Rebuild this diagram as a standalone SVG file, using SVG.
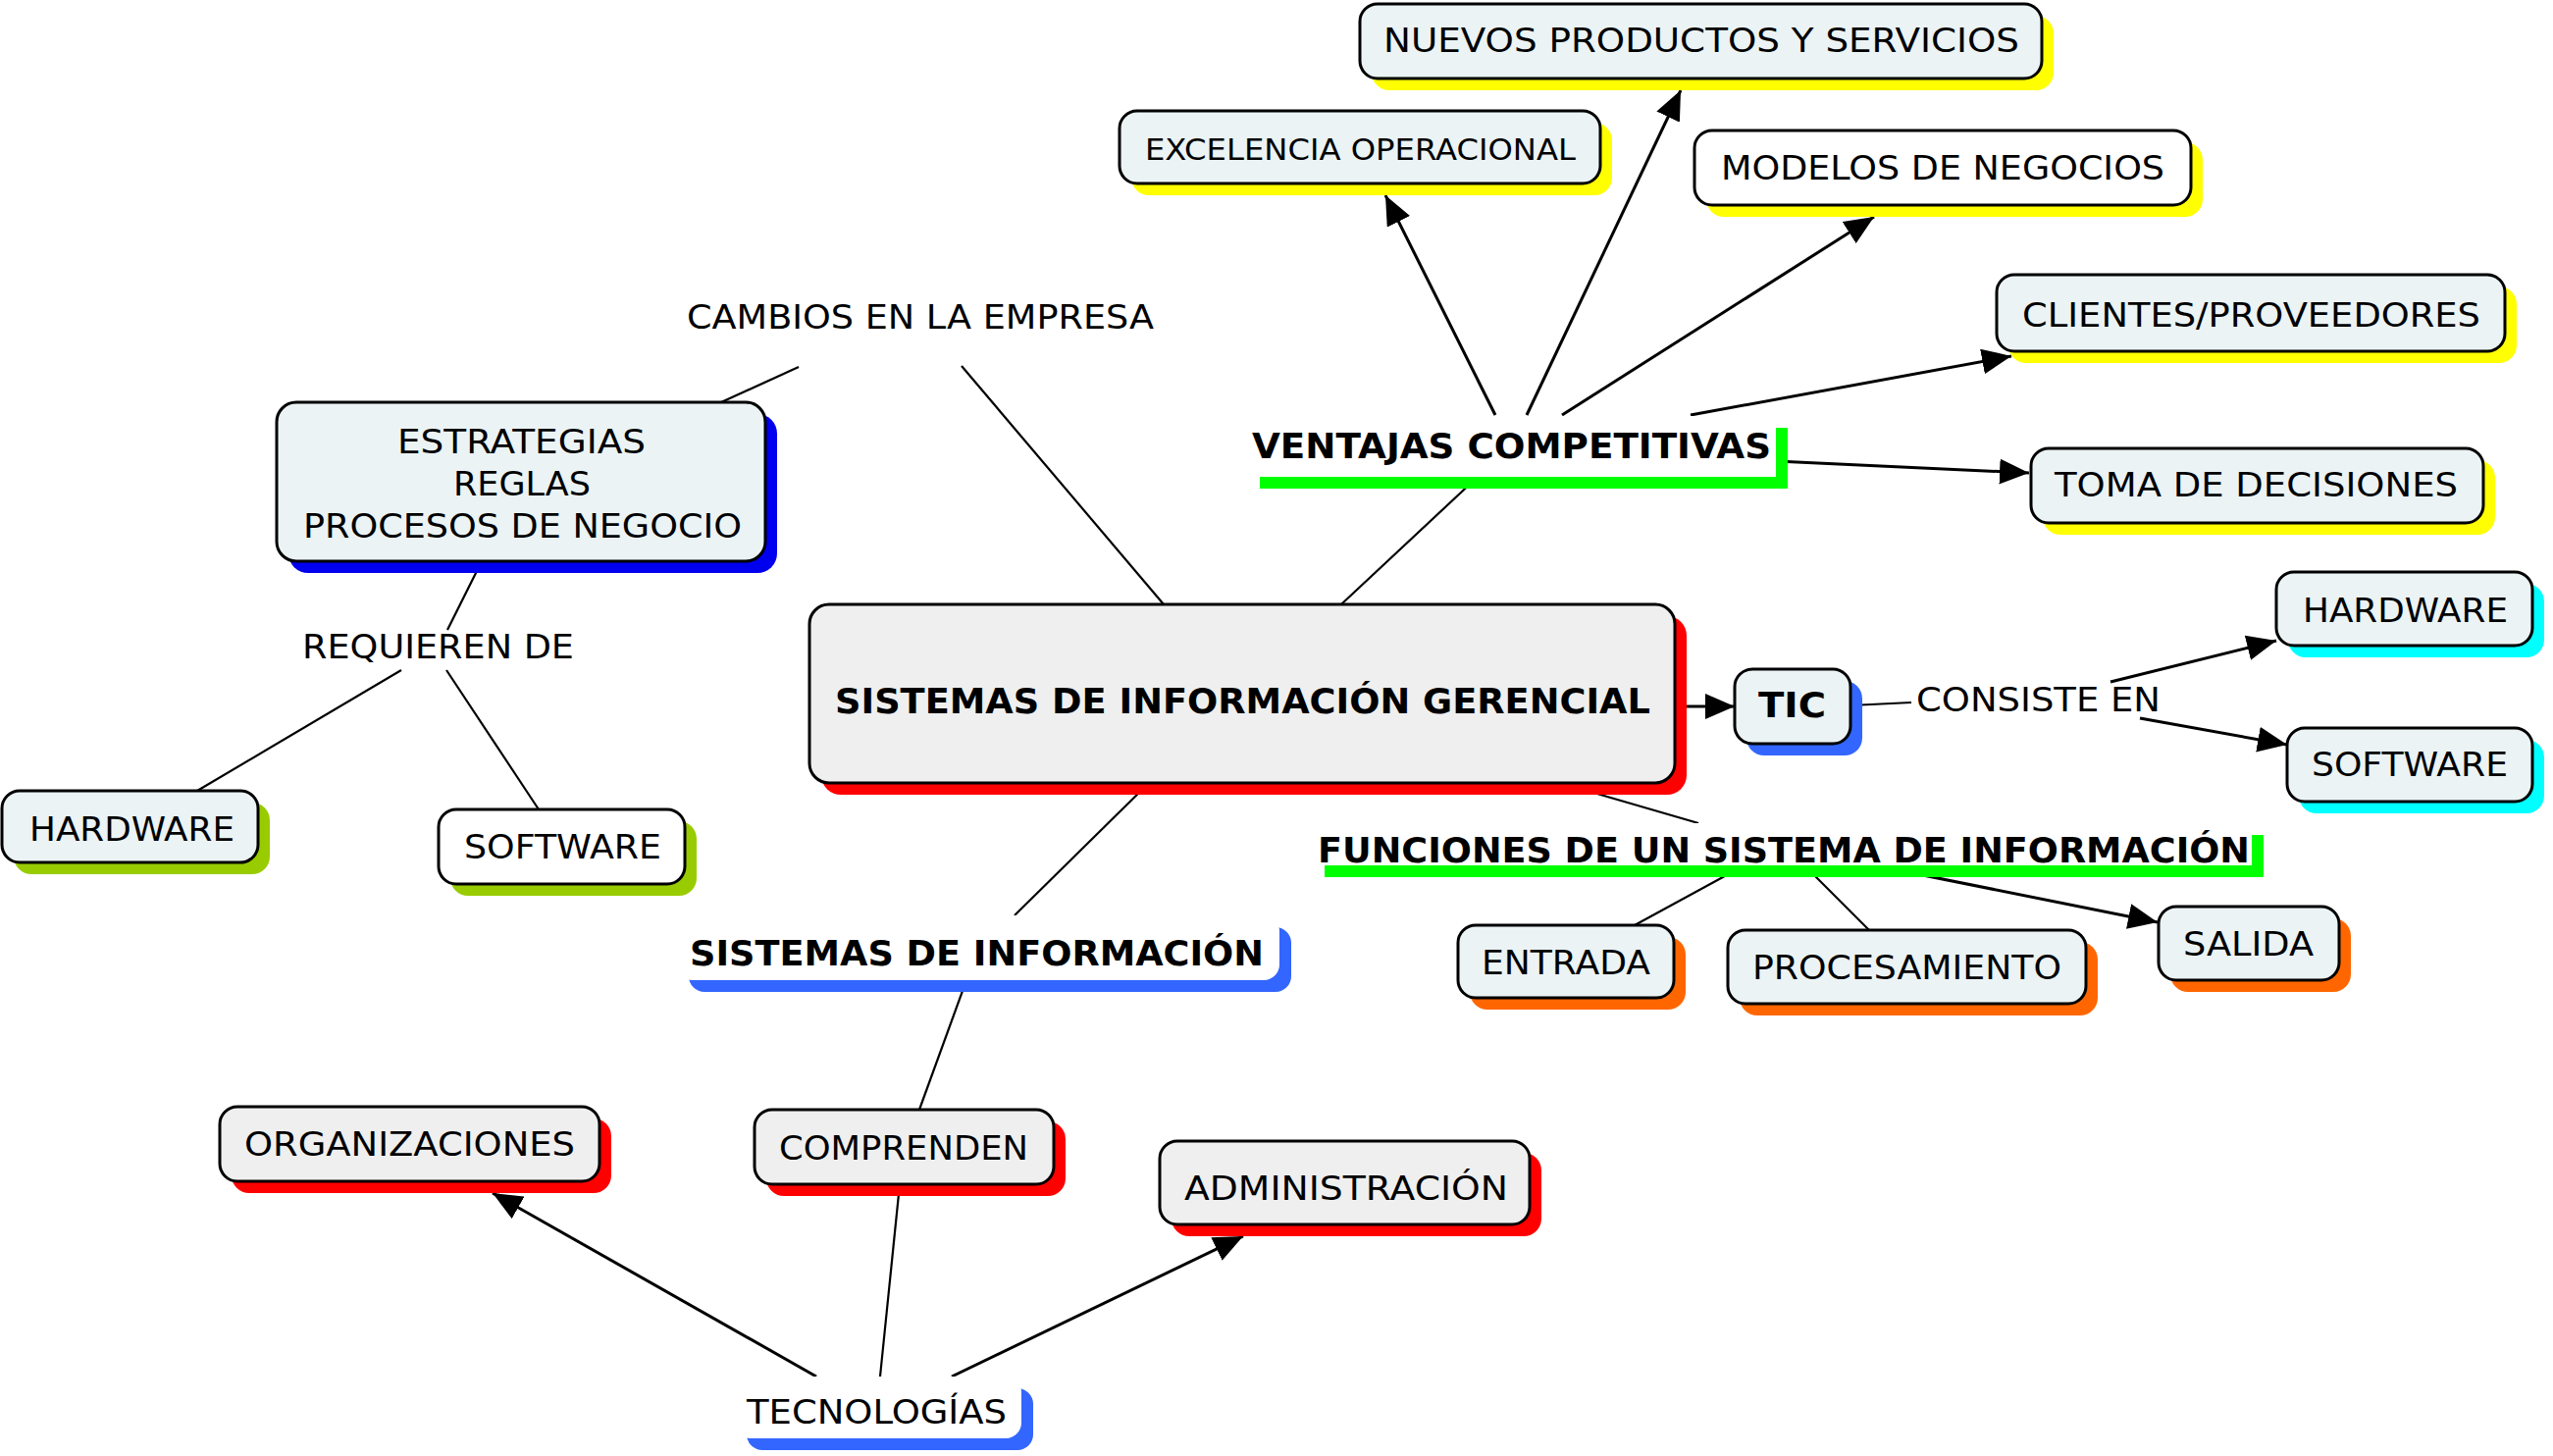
<svg xmlns="http://www.w3.org/2000/svg" width="2602" height="1484" viewBox="0 0 2602 1484">
<defs>
<marker id="arr" markerUnits="userSpaceOnUse" markerWidth="30" markerHeight="26" refX="30" refY="13" orient="auto" viewBox="0 0 30 26">
<path d="M0,0 L30,13 L0,26 z" fill="#000"/>
</marker>
</defs>
<style>
text{font-family:"DejaVu Sans","Liberation Sans",sans-serif;font-size:34px;fill:#000}
.b{font-weight:bold;font-size:35px}
.box{stroke:#000;stroke-width:3}
.lb{fill:#EBF3F5}
.gr{fill:#EFEFEF}
.wh{fill:#FFFFFF}
.ln{stroke:#000;stroke-width:2.2;fill:none}
.ar{stroke:#000;stroke-width:3;fill:none;marker-end:url(#arr)}
.yel{fill:#FFFF00}.red{fill:#FF0000}.blu{fill:#3366FF}.dbl{fill:#0000EE}.cya{fill:#00FFFF}.olv{fill:#99CC00}.org{fill:#FF6600}.grn{fill:#00FF00}
</style>
<rect width="2602" height="1484" fill="#fff"/>
<g id="connectors">
<line class="ln" x1="814" y1="374" x2="735" y2="410"/>
<line class="ln" x1="980" y1="373" x2="1186" y2="616"/>
<line class="ln" x1="491" y1="572" x2="456" y2="642"/>
<line class="ln" x1="409" y1="683" x2="201" y2="806"/>
<line class="ln" x1="455" y1="683" x2="549" y2="825"/>
<line class="ln" x1="1367" y1="616" x2="1505" y2="487"/>
<line class="ar" x1="1524" y1="423" x2="1412" y2="199"/>
<line class="ar" x1="1556" y1="423" x2="1713" y2="92"/>
<line class="ar" x1="1592" y1="423" x2="1910" y2="221"/>
<line class="ar" x1="1723" y1="423" x2="2050" y2="363"/>
<line class="ar" x1="1810" y1="470" x2="2068" y2="482"/>
<line class="ar" x1="1707" y1="720" x2="1768" y2="720"/>
<line class="ln" x1="1886" y1="719" x2="1948" y2="716"/>
<line class="ar" x1="2151" y1="695" x2="2320" y2="653"/>
<line class="ar" x1="2181" y1="732" x2="2331" y2="759"/>
<line class="ln" x1="1590" y1="798" x2="1731" y2="839"/>
<line class="ln" x1="1778" y1="882" x2="1666" y2="943"/>
<line class="ln" x1="1839" y1="882" x2="1905" y2="948"/>
<line class="ar" x1="1910" y1="882" x2="2199" y2="940"/>
<line class="ln" x1="1171" y1="798" x2="1034" y2="933"/>
<line class="ln" x1="985" y1="999" x2="937" y2="1131"/>
<line class="ln" x1="917" y1="1207" x2="897" y2="1403"/>
<line class="ar" x1="832" y1="1403" x2="502" y2="1216"/>
<line class="ar" x1="970" y1="1403" x2="1267" y2="1260"/>
</g>
<g id="n-nuevos">
<rect class="yel" x="1398" y="16" width="695" height="76" rx="18"/>
<rect class="box lb" x="1386" y="4" width="695" height="76" rx="18"/>
<text x="1410" y="53" textLength="648" lengthAdjust="spacingAndGlyphs">NUEVOS PRODUCTOS Y SERVICIOS</text>
</g>
<g id="n-excelencia">
<rect class="yel" x="1153" y="125" width="490" height="74" rx="18"/>
<rect class="box lb" x="1141" y="113" width="490" height="74" rx="18"/>
<text x="1167" y="163" style="font-size:31px" textLength="439" lengthAdjust="spacingAndGlyphs">EXCELENCIA OPERACIONAL</text>
</g>
<g id="n-modelos">
<rect class="yel" x="1739" y="145" width="506" height="76" rx="18"/>
<rect class="box wh" x="1727" y="133" width="506" height="76" rx="18"/>
<text x="1754" y="183" textLength="452" lengthAdjust="spacingAndGlyphs">MODELOS DE NEGOCIOS</text>
</g>
<g id="n-clientes">
<rect class="yel" x="2047" y="292" width="518" height="78" rx="18"/>
<rect class="box lb" x="2035" y="280" width="518" height="78" rx="18"/>
<text x="2061" y="333" textLength="467" lengthAdjust="spacingAndGlyphs">CLIENTES/PROVEEDORES</text>
</g>
<g id="n-toma">
<rect class="yel" x="2082" y="469" width="461" height="76" rx="18"/>
<rect class="box lb" x="2070" y="457" width="461" height="76" rx="18"/>
<text x="2094" y="506" textLength="411" lengthAdjust="spacingAndGlyphs">TOMA DE DECISIONES</text>
</g>
<g id="n-ventajas">
<rect class="grn" x="1284" y="436" width="538" height="62"/>
<rect class="wh" x="1272" y="424" width="538" height="62"/>
<text class="b" x="1276" y="467" textLength="529" lengthAdjust="spacingAndGlyphs">VENTAJAS COMPETITIVAS</text>
</g>
<g id="n-cambios">
<text x="700" y="335" textLength="476" lengthAdjust="spacingAndGlyphs">CAMBIOS EN LA EMPRESA</text>
</g>
<g id="n-estrategias">
<rect class="dbl" x="294" y="422" width="498" height="162" rx="20"/>
<rect class="box lb" x="282" y="410" width="498" height="162" rx="20"/>
<text x="405" y="462" textLength="253" lengthAdjust="spacingAndGlyphs">ESTRATEGIAS</text>
<text x="462" y="505" textLength="140" lengthAdjust="spacingAndGlyphs">REGLAS</text>
<text x="309" y="548" textLength="447" lengthAdjust="spacingAndGlyphs">PROCESOS DE NEGOCIO</text>
</g>
<g id="n-requieren">
<text x="308" y="671" textLength="277" lengthAdjust="spacingAndGlyphs">REQUIEREN DE</text>
</g>
<g id="n-hardware-l">
<rect class="olv" x="14" y="818" width="261" height="73" rx="18"/>
<rect class="box lb" x="2" y="806" width="261" height="73" rx="18"/>
<text x="30" y="857" textLength="209" lengthAdjust="spacingAndGlyphs">HARDWARE</text>
</g>
<g id="n-software-l">
<rect class="olv" x="459" y="837" width="251" height="76" rx="18"/>
<rect class="box wh" x="447" y="825" width="251" height="76" rx="18"/>
<text x="473" y="875" textLength="201" lengthAdjust="spacingAndGlyphs">SOFTWARE</text>
</g>
<g id="n-sig">
<rect class="red" x="837" y="628" width="882" height="182" rx="20"/>
<rect class="box gr" x="825" y="616" width="882" height="182" rx="20"/>
<text class="b" x="851" y="727" textLength="831" lengthAdjust="spacingAndGlyphs">SISTEMAS DE INFORMACIÓN GERENCIAL</text>
</g>
<g id="n-tic">
<rect class="blu" x="1780" y="694" width="118" height="76" rx="18"/>
<rect class="box lb" x="1768" y="682" width="118" height="76" rx="18"/>
<text class="b" x="1792" y="731" textLength="69" lengthAdjust="spacingAndGlyphs">TIC</text>
</g>
<g id="n-consiste">
<text x="1953" y="725" textLength="249" lengthAdjust="spacingAndGlyphs">CONSISTE EN</text>
</g>
<g id="n-hardware-r">
<rect class="cya" x="2332" y="595" width="261" height="75" rx="18"/>
<rect class="box lb" x="2320" y="583" width="261" height="75" rx="18"/>
<text x="2347" y="634" textLength="209" lengthAdjust="spacingAndGlyphs">HARDWARE</text>
</g>
<g id="n-software-r">
<rect class="cya" x="2343" y="754" width="250" height="75" rx="18"/>
<rect class="box lb" x="2331" y="742" width="250" height="75" rx="18"/>
<text x="2356" y="791" textLength="200" lengthAdjust="spacingAndGlyphs">SOFTWARE</text>
</g>
<g id="n-funciones">
<rect class="grn" x="1350" y="851" width="957" height="43"/>
<rect class="wh" x="1338" y="839" width="957" height="43"/>
<text class="b" x="1343" y="879" textLength="950" lengthAdjust="spacingAndGlyphs">FUNCIONES DE UN SISTEMA DE INFORMACIÓN</text>
</g>
<g id="n-entrada">
<rect class="org" x="1498" y="955" width="220" height="74" rx="18"/>
<rect class="box lb" x="1486" y="943" width="220" height="74" rx="18"/>
<text x="1510" y="993" textLength="172" lengthAdjust="spacingAndGlyphs">ENTRADA</text>
</g>
<g id="n-procesamiento">
<rect class="org" x="1773" y="960" width="365" height="75" rx="18"/>
<rect class="box lb" x="1761" y="948" width="365" height="75" rx="18"/>
<text x="1786" y="998" textLength="315" lengthAdjust="spacingAndGlyphs">PROCESAMIENTO</text>
</g>
<g id="n-salida">
<rect class="org" x="2212" y="936" width="184" height="75" rx="18"/>
<rect class="box lb" x="2200" y="924" width="184" height="75" rx="18"/>
<text x="2225" y="974" textLength="133" lengthAdjust="spacingAndGlyphs">SALIDA</text>
</g>
<g id="n-sistemas-info">
<rect class="blu" x="702" y="945" width="614" height="66" rx="16"/>
<rect class="wh" x="690" y="933" width="614" height="66" rx="16"/>
<text class="b" x="703" y="984" textLength="585" lengthAdjust="spacingAndGlyphs">SISTEMAS DE INFORMACIÓN</text>
</g>
<g id="n-comprenden">
<rect class="red" x="781" y="1143" width="305" height="76" rx="18"/>
<rect class="box gr" x="769" y="1131" width="305" height="76" rx="18"/>
<text x="794" y="1182" textLength="254" lengthAdjust="spacingAndGlyphs">COMPRENDEN</text>
</g>
<g id="n-organizaciones">
<rect class="red" x="236" y="1140" width="387" height="76" rx="18"/>
<rect class="box gr" x="224" y="1128" width="387" height="76" rx="18"/>
<text x="249" y="1178" textLength="337" lengthAdjust="spacingAndGlyphs">ORGANIZACIONES</text>
</g>
<g id="n-administracion">
<rect class="red" x="1194" y="1175" width="377" height="85" rx="18"/>
<rect class="box gr" x="1182" y="1163" width="377" height="85" rx="18"/>
<text x="1207" y="1223" textLength="330" lengthAdjust="spacingAndGlyphs">ADMINISTRACIÓN</text>
</g>
<g id="n-tecnologias">
<rect class="blu" x="761" y="1415" width="292" height="63" rx="16"/>
<rect class="wh" x="749" y="1403" width="292" height="63" rx="16"/>
<text x="761" y="1451" textLength="265" lengthAdjust="spacingAndGlyphs">TECNOLOGÍAS</text>
</g>
</svg>
